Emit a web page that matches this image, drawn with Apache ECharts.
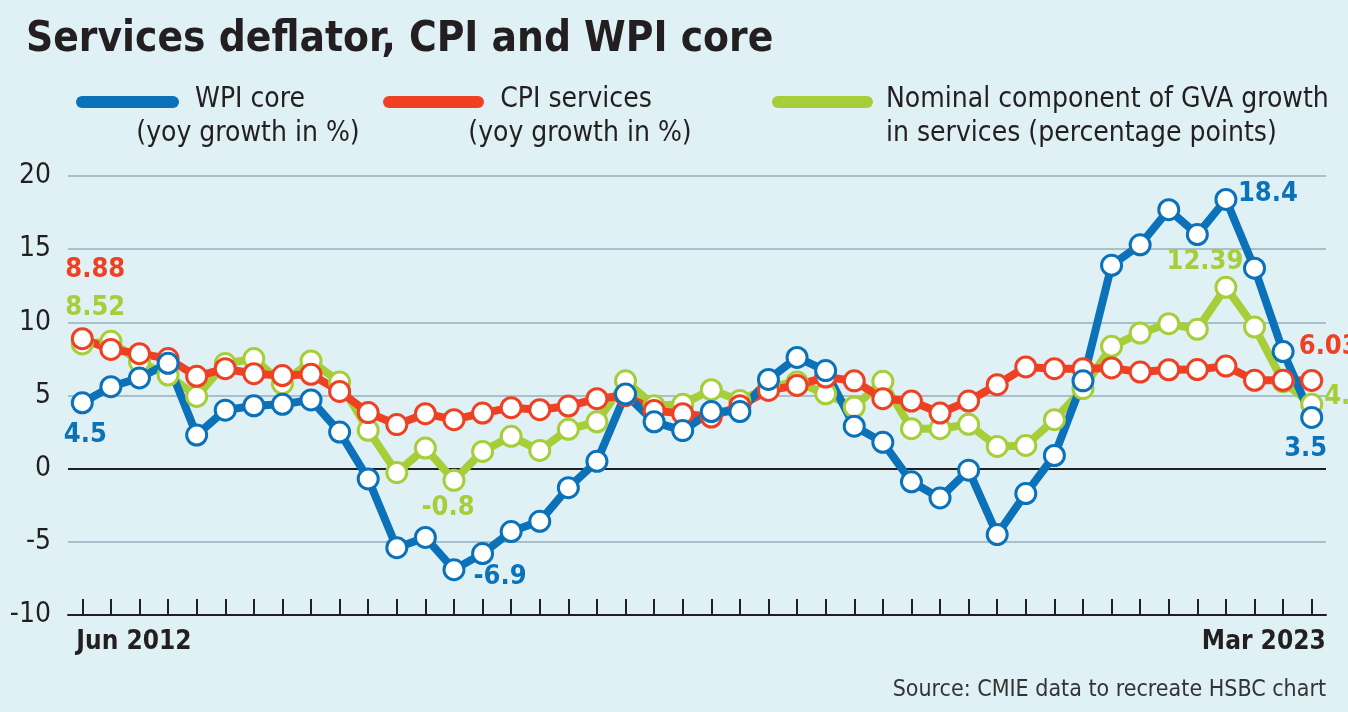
<!DOCTYPE html>
<html>
<head>
<meta charset="utf-8">
<title>Services deflator, CPI and WPI core</title>
<script src="https://cdn.jsdelivr.net/npm/echarts@6/dist/echarts.min.js"></script>
<style>
    html, body { margin: 0; padding: 0; background: #dff1f5; }
    #main { width: 1348px; height: 712px; }
</style>
</head>
<body>
<div id="main"></div>
<script>
/*********************** data *******************************/
// quarters, Jun 2012 .. Mar 2023
var months = ['Mar', 'Jun', 'Sep', 'Dec'];
var quarters = [];
for (var i = 0; i < 44; i++) {
    quarters.push(months[(i + 1) % 4] + ' ' + (2012 + Math.floor((i + 1) / 4)));
}

// WPI core (yoy growth in %)
var wpiCore = [4.5, 5.6, 6.2, 7.2, 2.3, 4.0, 4.3, 4.4, 4.7, 2.5,
    -0.7, -5.4, -4.7, -6.9, -5.8, -4.3, -3.6, -1.3, 0.5, 5.1,
    3.2, 2.6, 3.9, 3.9, 6.1, 7.6, 6.7, 2.9, 1.8, -0.9,
    -2.0, -0.1, -4.5, -1.7, 0.9, 6.0, 13.9, 15.3, 17.7, 16.0,
    18.4, 13.7, 8.0, 3.5];

// CPI services (yoy growth in %)
var cpiServices = [8.88, 8.15, 7.86, 7.52, 6.31, 6.83, 6.49, 6.36, 6.45, 5.28,
    3.83, 3.01, 3.76, 3.35, 3.8, 4.17, 4.03, 4.28, 4.78, 5.0,
    3.98, 3.76, 3.53, 4.3, 5.35, 5.69, 6.26, 6.0, 4.78, 4.62,
    3.8, 4.62, 5.74, 6.95, 6.83, 6.83, 6.88, 6.6, 6.76, 6.77,
    7.01, 6.04, 6.04, 6.03];

// Nominal component of GVA growth in services (percentage points)
var gvaNominal = [8.52, 8.7, 7.3, 6.4, 4.94, 7.18, 7.52, 5.81, 7.36, 5.92,
    2.62, -0.27, 1.41, -0.8, 1.18, 2.21, 1.25, 2.69, 3.2, 6.0,
    4.3, 4.4, 5.4, 4.65, 5.58, 5.92, 5.12, 4.21, 5.97, 2.73,
    2.73, 3.03, 1.52, 1.59, 3.35, 5.47, 8.36, 9.27, 9.91, 9.52,
    12.39, 9.68, 5.95, 4.4];

var legendNames = ['WPI core', 'CPI services', 'Nominal component of GVA growth'];
var legendSubs = ['(yoy growth in %)', '(yoy growth in %)', 'in services (percentage points)'];

/*********************** style *******************************/
var BLUE = '#0b72b9';
var RED = '#ee4124';
var GREEN = '#a6ce39';
var INK = '#231f20';
var GRIDLINE = '#a9bfca';
var FONT = "'Liberation Sans Narrow', 'DejaVu Sans Condensed', 'Arial Narrow', sans-serif";

// value label next to a point, offset from the point centre
function pointLabel(dx, dy, color) {
    return {
        show: true,
        position: 'inside',
        offset: [dx, dy],
        color: color,
        fontFamily: FONT,
        fontWeight: 'bold',
        fontSize: 27,
        formatter: function (p) {
            return String(p.value);
        }
    };
}

function withLabels(values, labels) {
    return values.map(function (v, idx) {
        return labels[idx] ? { value: v, label: labels[idx] } : v;
    });
}

function lineSeries(name, values, color, labels) {
    return {
        name: name,
        type: 'line',
        data: withLabels(values, labels),
        symbol: 'circle',
        symbolSize: 20,
        showAllSymbol: true,
        lineStyle: { color: color, width: 8 },
        itemStyle: { color: '#fff', borderColor: color, borderWidth: 3 },
        label: { show: false },
        emphasis: { disabled: true }
    };
}

var chart = echarts.init(document.getElementById('main'));

var option = {
    backgroundColor: '#dff1f5',
    animation: false,
    title: {
        text: 'Services deflator, CPI and WPI core',
        left: 21,
        top: 14,
        textStyle: { fontFamily: FONT, fontWeight: 'bold', fontSize: 42, color: INK }
    },
    grid: { left: 68, right: 22, top: 176, bottom: 97 },
    xAxis: {
        type: 'category',
        data: quarters,
        boundaryGap: true,
        axisLine: { onZero: false, lineStyle: { color: INK, width: 2 } },
        axisTick: { show: true, inside: true, length: 16, interval: 0, alignWithLabel: true, lineStyle: { color: INK, width: 2 } },
        axisLabel: {
            interval: function (idx) {
                return idx === 0 || idx === quarters.length - 1;
            },
            alignMinLabel: 'left',
            alignMaxLabel: 'right',
            margin: 14,
            formatter: function (v, idx) {
                return idx === 0 ? '{first|' + v + '}' : '{last|' + v + '}';
            },
            rich: {
                first: { fontFamily: FONT, fontWeight: 'bold', fontSize: 26, color: INK, padding: [0, 0, 0, -6] },
                last: { fontFamily: FONT, fontWeight: 'bold', fontSize: 26, color: INK, padding: [0, -14, 0, 0] }
            }
        }
    },
    yAxis: {
        type: 'value',
        min: -10,
        max: 20,
        interval: 5,
        axisLine: { show: false },
        axisTick: { show: false },
        axisLabel: { fontFamily: FONT, fontSize: 28, color: INK, margin: 17 },
        splitLine: {
            // -10 sits under the x axis line, 0 is the black zero line
            lineStyle: { color: [INK, GRIDLINE, INK, GRIDLINE, GRIDLINE, GRIDLINE, GRIDLINE], width: 2 }
        }
    },
    series: [
        lineSeries(legendNames[2], gvaNominal, GREEN, {
            0: pointLabel(13, -36, GREEN),
            13: pointLabel(-6, 28, GREEN),
            40: pointLabel(-21, -25, GREEN),
            43: pointLabel(34, -7, GREEN)
        }),
        lineSeries(legendNames[1], cpiServices, RED, {
            0: pointLabel(13, -69, RED),
            43: pointLabel(17, -33, RED)
        }),
        lineSeries(legendNames[0], wpiCore, BLUE, {
            0: pointLabel(3, 32, BLUE),
            13: pointLabel(46, 7, BLUE),
            40: pointLabel(42, -5, BLUE),
            43: pointLabel(-6, 32, BLUE)
        })
    ],
    graphic: [
        // legend keys
        { type: 'line', shape: { x1: 82, y1: 102, x2: 173, y2: 102 }, style: { stroke: BLUE, lineWidth: 12, lineCap: 'round' } },
        { type: 'line', shape: { x1: 389, y1: 102, x2: 478, y2: 102 }, style: { stroke: RED, lineWidth: 12, lineCap: 'round' } },
        { type: 'line', shape: { x1: 778, y1: 102, x2: 867, y2: 102 }, style: { stroke: GREEN, lineWidth: 12, lineCap: 'round' } },
        { type: 'text', x: 250, y: 100, style: { text: legendNames[0], fill: INK, fontFamily: FONT, fontSize: 28, align: 'center', verticalAlign: 'middle' } },
        { type: 'text', x: 248, y: 134, style: { text: legendSubs[0], fill: INK, fontFamily: FONT, fontSize: 28, align: 'center', verticalAlign: 'middle' } },
        { type: 'text', x: 576, y: 100, style: { text: legendNames[1], fill: INK, fontFamily: FONT, fontSize: 28, align: 'center', verticalAlign: 'middle' } },
        { type: 'text', x: 580, y: 134, style: { text: legendSubs[1], fill: INK, fontFamily: FONT, fontSize: 28, align: 'center', verticalAlign: 'middle' } },
        { type: 'text', x: 886, y: 100, style: { text: legendNames[2], fill: INK, fontFamily: FONT, fontSize: 28, align: 'left', verticalAlign: 'middle' } },
        { type: 'text', x: 886, y: 134, style: { text: legendSubs[2], fill: INK, fontFamily: FONT, fontSize: 28, align: 'left', verticalAlign: 'middle' } },
        // source note
        { type: 'text', x: 1326, y: 690, style: { text: 'Source: CMIE data to recreate HSBC chart', fill: '#333', fontFamily: FONT, fontSize: 23, align: 'right', verticalAlign: 'middle' } }
    ]
};

chart.setOption(option);
</script>
</body>
</html>
